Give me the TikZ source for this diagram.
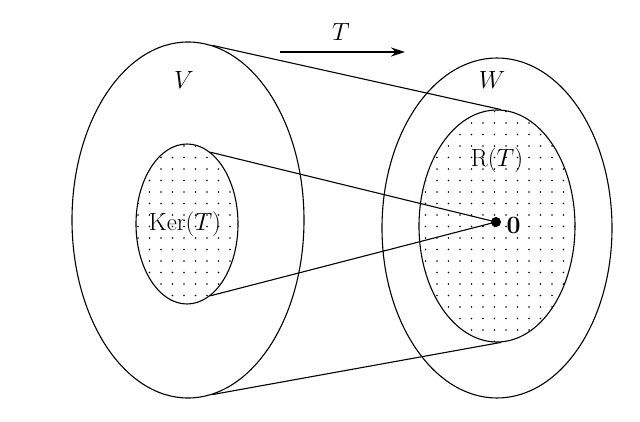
\documentclass[tikz,border=0pt]{standalone}
\usetikzlibrary{shapes.geometric,patterns.meta,arrows.meta}
\begin{document}
\begin{tikzpicture}[x=1pt,y=-1pt,
  ell/.style={draw,ellipse,inner sep=0pt,line width=1.1pt},
  dotted fill/.style={pattern={Dots[distance=11.5pt,radius=0.8pt]}},
  lbl/.style={font=\fontsize{38}{44}\selectfont},
  edge/.style={line width=1.1pt}]
\useasboundingbox (0,0) rectangle (640,422);
\node[ell,minimum width=232pt,minimum height=356pt] (V) at (188,220) {};
\node[ell,minimum width=230pt,minimum height=340pt] (W) at (497,228) {};
\node[ell,dotted fill,minimum width=102pt,minimum height=160pt] (K) at (187,224) {};
\node[ell,dotted fill,minimum width=156pt,minimum height=232pt] (R) at (497,226) {};
\node[fill,circle,inner sep=0pt,minimum size=10pt] (z) at (496,222) {};
\node[lbl,anchor=west] (zl) at (503,225) {$\mathbf{0}$};
\node[lbl] (Vl) at (184,80) {$V$};
\node[lbl] (Wl) at (492,80) {$W$};
\node[lbl] (Kl) at (185,224) {$\mathrm{Ker}(T)$};
\node[lbl] (Rl) at (497,160) {$\mathrm{R}(T)$};
\coordinate (a1) at (280,52);
\coordinate (a2) at (405,52);
\draw[edge,-{Stealth[length=14pt,width=9pt]}] (a1) -- (a2);
\node[lbl] (Tl) at (341,32) {$T$};
\draw[edge] (V.82) -- (R.88);
\draw[edge] (V.-82) -- (R.-88);
\draw[edge] (K.72) -- (z.center);
\draw[edge] (K.-72) -- (z.center);
\end{tikzpicture}
\end{document}
